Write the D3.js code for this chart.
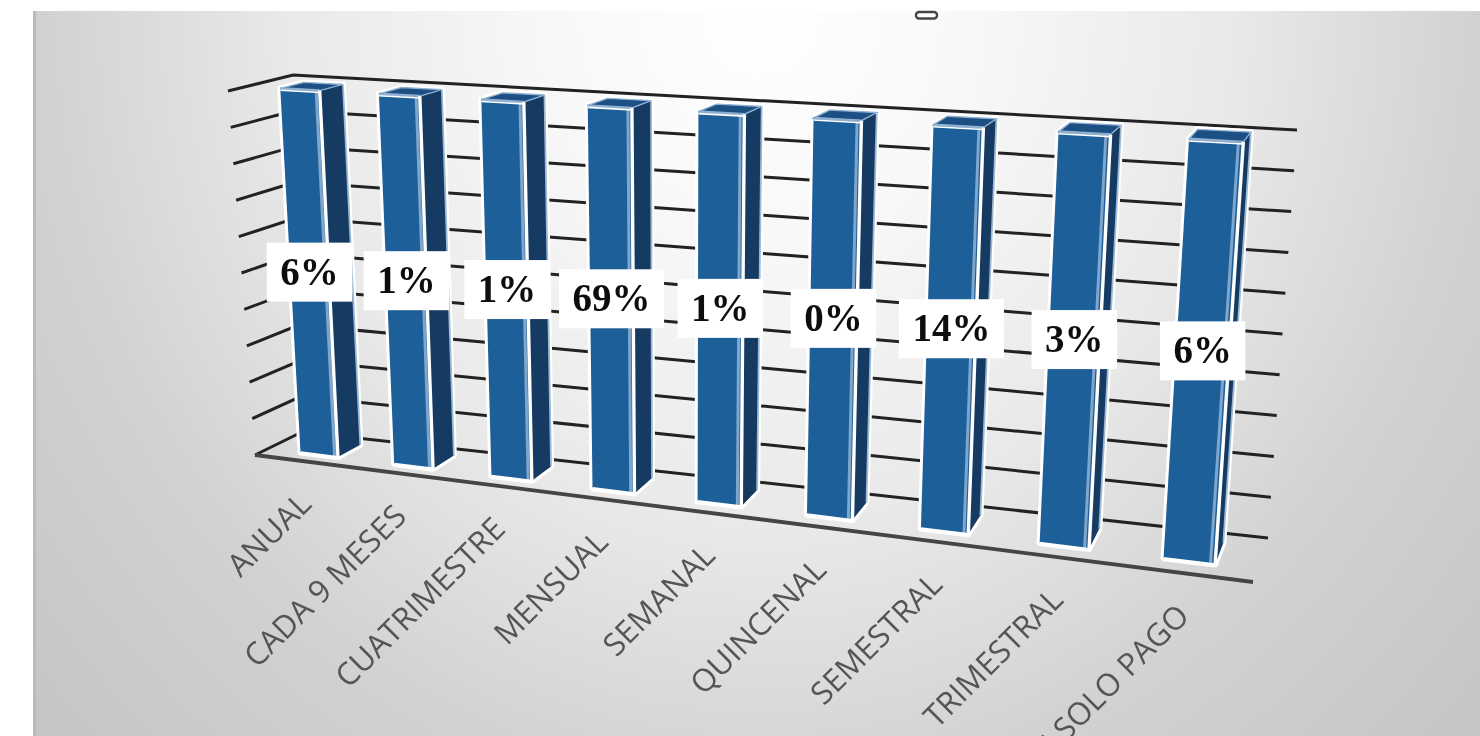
<!DOCTYPE html>
<html>
<head>
<meta charset="utf-8">
<script src="https://cdn.jsdelivr.net/npm/d3@7"></script>
<style>
html,body{margin:0;padding:0;background:#fff;overflow:hidden}
svg{display:block}
</style>
</head>
<body>
<svg id="c" width="1480" height="736"></svg>
<script>
// DATA
const categories = ["ANUAL","CADA 9 MESES","CUATRIMESTRE","MENSUAL","SEMANAL","QUINCENAL","SEMESTRAL","TRIMESTRAL","UN SOLO PAGO"];
const percentLabels = [6,1,1,69,1,0,14,3,6];
const stackedShare = [100,100,100,100,100,100,100,100,100];
const axisMax = 100;

// 3D box: screen corners of the plot cube
const box = {
  flb:[255,455], frb:[1253,582], blb:[302,432], brb:[1268,538],
  flt:[228,91],  frt:[1284,150], blt:[293,75],  brt:[1297,130]
};
const lerp=(a,b,t)=>[a[0]+(b[0]-a[0])*t,a[1]+(b[1]-a[1])*t];
const persp=s=>s/(1+0.2*(1-s));
const project=(u,v,h)=>lerp(
  lerp(lerp(box.flb,box.frb,u),lerp(box.blb,box.brb,u),v),
  lerp(lerp(box.flt,box.frt,u),lerp(box.blt,box.brt,u),v),h);

const xBand=d3.scaleBand().domain(categories).range([0.039,0.9643]).paddingInner(0.596).paddingOuter(0);
const yH=d3.scaleLinear().domain([0,axisMax]).range([0,1]);
const vFront=0.28, vBack=0.78;
const vBackTop=u=>0.65+0.13*u;

const svg=d3.select("#c");
const defs=svg.append("defs");
const grad=defs.append("radialGradient").attr("id","bg").attr("gradientUnits","userSpaceOnUse")
  .attr("cx",0).attr("cy",0).attr("r",1)
  .attr("gradientTransform","translate(760,10) scale(1050,1150)");
[[0,"#ffffff"],[0.2,"#f8f8f8"],[0.45,"#e9e9e9"],[0.68,"#d2d2d2"],[0.95,"#c4c4c4"]].forEach(d=>grad.append("stop").attr("offset",d[0]).attr("stop-color",d[1]));
defs.append("filter").attr("id","soft").attr("x","-5%").attr("y","-5%").attr("width","110%").attr("height","110%")
  .append("feGaussianBlur").attr("stdDeviation",0.55);

svg.append("rect").attr("x",33).attr("y",11).attr("width",1447).attr("height",725).attr("fill","url(#bg)");
svg.append("rect").attr("x",33).attr("y",11).attr("width",3).attr("height",725).attr("fill","#bbb");

const g=svg.append("g").attr("filter","url(#soft)");
const poly=d3.line().x(d=>d[0]).y(d=>d[1]);

g.append("rect").attr("x",916).attr("y",12).attr("width",21).attr("height",6.5).attr("rx",3).attr("fill","#fff").attr("stroke","#444").attr("stroke-width",2.4);

// gridlines
const ticks=yH.ticks(10);
g.append("g").selectAll("path").data(ticks).join("path")
  .attr("d",t=>poly([project(0,0,yH(t)),project(0,1,yH(t)),project(1,1,yH(t))]))
  .attr("fill","none").attr("stroke","#222").attr("stroke-width",3);
// floor front edge
g.append("path").attr("d",poly([project(0,0,0),project(1,0,0)])).attr("fill","none").attr("stroke","#444").attr("stroke-width",3.8);

// bars
const bars=g.append("g").selectAll("g").data(categories).join("g");
bars.each(function(c,i){
  const s=d3.select(this);
  const u0=persp(xBand(c)), u1=persp(xBand(c)+xBand.bandwidth());
  const h=yH(stackedShare[i]);
  const F=[project(u0,vFront,0),project(u1,vFront,0),project(u1,vFront,h),project(u0,vFront,h)];
  const S=[project(u1,vFront,0),project(u1,vBack,0),project(u1,vBackTop(u1),h),project(u1,vFront,h)];
  const T=[project(u0,vFront,h),project(u1,vFront,h),project(u1,vBackTop(u1),h),project(u0,vBackTop(u0),h)];
  const outline=[F[0],F[1],S[1],S[2],T[3],F[3]];
  s.append("path").attr("d",poly(outline)+"Z").attr("fill","#fff").attr("stroke","#fff").attr("stroke-width",6).attr("stroke-linejoin","round");
  s.append("path").attr("d",poly(S)+"Z").attr("fill","#143a63");
  s.append("path").attr("d",poly(T)+"Z").attr("fill","#1b4f83").attr("stroke","#8fb0d0").attr("stroke-width",1.4);
  s.append("path").attr("d",poly(F)+"Z").attr("fill","#1f5f99");
  // bevel
  s.append("path").attr("d",poly([F[3],F[2]])).attr("stroke","#8fb0d0").attr("stroke-width",2.6).attr("fill","none");
  const inset=(a,b,t)=>lerp(a,b,t);
  s.append("path").attr("d",poly([inset(F[2],F[3],0.09),inset(F[1],F[0],0.09)])).attr("stroke","#7fa6cc").attr("stroke-width",3).attr("fill","none");
  s.append("path").attr("d",poly([F[1],F[2]])).attr("stroke","#fff").attr("stroke-width",3.4).attr("fill","none");
  s.append("path").attr("d",poly([inset(F[3],F[0],0.005),inset(F[2],F[1],0.005)])).attr("stroke","#fff").attr("stroke-width",1.6).attr("fill","none");
  s.append("path").attr("d",poly([F[0],F[1]])).attr("stroke","#fff").attr("stroke-width",2.4).attr("fill","none");
  s.append("path").attr("d",poly([S[2],S[1]])).attr("stroke","#9db9d4").attr("stroke-width",1.8).attr("fill","none");
});

// data labels
const labels=svg.append("g").selectAll("g").data(categories).join("g").attr("filter","url(#soft)");
labels.each(function(c,i){
  const s=d3.select(this);
  const uc=persp(xBand(c)+xBand.bandwidth()/2);
  const p=project(uc,vFront,yH(axisMax/2));
  const r=s.append("rect").attr("fill","#fff");
  const t=s.append("text").attr("x",p[0]).attr("y",p[1]-1).attr("text-anchor","middle")
    .attr("dominant-baseline","central").attr("font-family","'Liberation Serif',serif")
    .attr("font-weight","bold").attr("font-size",39).attr("fill","#111").text(percentLabels[i]+"%");
  const w=t.node().getComputedTextLength()+27, hh=59;
  r.attr("x",p[0]-w/2).attr("y",p[1]-hh/2).attr("width",w).attr("height",hh);
});

// category labels
svg.append("g").attr("filter","url(#soft)").selectAll("text").data(categories).join("text")
  .attr("transform",c=>{
    const p=project(persp(xBand(c)+xBand.bandwidth()/2),0,0);
    return `translate(${p[0]-2},${p[1]+36}) rotate(-45)`;
  })
  .attr("text-anchor","end").attr("dominant-baseline","central")
  .attr("font-family","'Open Sans',sans-serif").attr("font-size",31.3).attr("fill","#555")
  .text(c=>c);
</script>
</body>
</html>
